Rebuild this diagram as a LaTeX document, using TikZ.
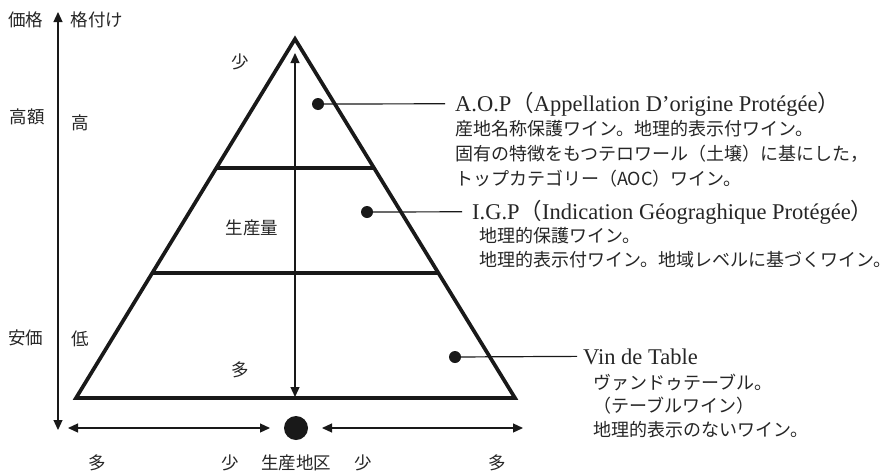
\documentclass[tikz,border=0pt]{standalone}
\usepackage{fontspec}
\setmainfont{Liberation Serif}
\newfontfamily\jpf{Noto Sans CJK JP}
\usetikzlibrary{arrows.meta,calc}
\newcommand\Jp[1]{{\jpf #1}}
\begin{document}
\begin{tikzpicture}[x=1pt,y=-1pt,
  tri/.style={line width=3.7pt,line join=miter,draw=black!90},
  thinline/.style={line width=1.2pt,draw=black!90},
  dbl/.style={thinline,{Triangle[length=10pt,width=9pt]}-{Triangle[length=10pt,width=9pt]}},
  dotnode/.style={circle,fill=black!90,inner sep=0pt,minimum size=12pt},
  lbl/.style={font=\jpf\fontsize{17.5}{20}\selectfont,text=black!85,inner sep=0pt},
  ttl/.style={font=\fontsize{22.5}{24}\selectfont,text=black!85,inner sep=0pt,anchor=base west},
  jl/.style={font=\jpf\fontsize{18}{20}\selectfont,text=black!85,inner sep=0pt,anchor=base west}]
\useasboundingbox (0,0) rectangle (896,474);
\fill[white] (0,0) rectangle (896,474);

% triangle
\coordinate (A) at (295,39);
\coordinate (L) at (76,398);
\coordinate (R) at (515,398);
\draw[tri] (L) -- (A) -- (R) -- cycle;
\draw[tri] ($(L)!0.6407!(A)$) -- ($(R)!0.6407!(A)$);
\draw[tri] ($(L)!0.3482!(A)$) -- ($(R)!0.3482!(A)$);

% middle production arrow
\coordinate (mt) at (295,53);
\coordinate (mb) at (295,397);
\draw[dbl] (mb) -- (mt);

% left price axis
\coordinate (at) at (58,12);
\coordinate (ab) at (58,430);
\draw[dbl] (ab) -- (at);

% left labels
\node[lbl] (kakaku) at (26,20) {価格};
\node[lbl] (kakuzuke) at (97,20) {格付け};
\node[lbl] (kougaku) at (27,117) {高額};
\node[lbl] (kou) at (80,123) {高};
\node[lbl] (anka) at (26,338) {安価};
\node[lbl] (tei) at (80,339) {低};

% inner labels
\node[lbl] (sho1) at (240,62) {少};
\node[lbl] (seisanryo) at (252,228) {生産量};
\node[lbl] (ta1) at (240,370) {多};

% bottom axis
\node[dotnode,minimum size=24pt] (region) at (296,428) {};
\coordinate (bl1) at (68,428);
\coordinate (bl2) at (270,428);
\coordinate (br1) at (322,428);
\coordinate (br2) at (523,428);
\draw[dbl] (bl1) -- (bl2);
\draw[dbl] (br1) -- (br2);
\node[lbl] (ta2) at (97,463) {多};
\node[lbl] (sho2) at (230,463) {少};
\node[lbl] (chiku) at (296,463) {生産地区};
\node[lbl] (sho3) at (363,463) {少};
\node[lbl] (ta3) at (497,463) {多};

% A.O.P
\node[dotnode] (d1) at (318,104) {};
\node[ttl] (aop) at (455,111) {A.O.P\Jp{（}Appellation D’origine Protégée\Jp{）}};
\node[jl] (aop2) at (455,135) {産地名称保護ワイン。地理的表示付ワイン。};
\node[jl] (aop3) at (455,160) {固有の特徴をもつテロワール（土壌）に基にした，};
\node[jl] (aop4) at (455,185) {トップカテゴリー（AOC）ワイン。};
\draw[thinline] (d1.center) -- ($(aop.west)+(-10,0)$);

% I.G.P
\node[dotnode] (d2) at (367,212) {};
\node[ttl] (igp) at (472,219) {I.G.P\Jp{（}Indication Géograghique Protégée\Jp{）}};
\node[jl] (igp2) at (479,242) {地理的保護ワイン。};
\node[jl] (igp3) at (479,266) {地理的表示付ワイン。地域レベルに基づくワイン。};
\draw[thinline] (d2.center) -- ($(igp.west)+(-10,0)$);

% Vin de Table
\node[dotnode] (d3) at (455,357) {};
\node[ttl] (vdt) at (583,364) {Vin de Table};
\node[jl] (vdt2) at (593,389) {ヴァンドゥテーブル。};
\node[jl] (vdt3) at (593,412) {（テーブルワイン）};
\node[jl] (vdt4) at (593,436) {地理的表示のないワイン。};
\draw[thinline] (d3.center) -- ($(vdt.west)+(-6,0)$);
\end{tikzpicture}
\end{document}
